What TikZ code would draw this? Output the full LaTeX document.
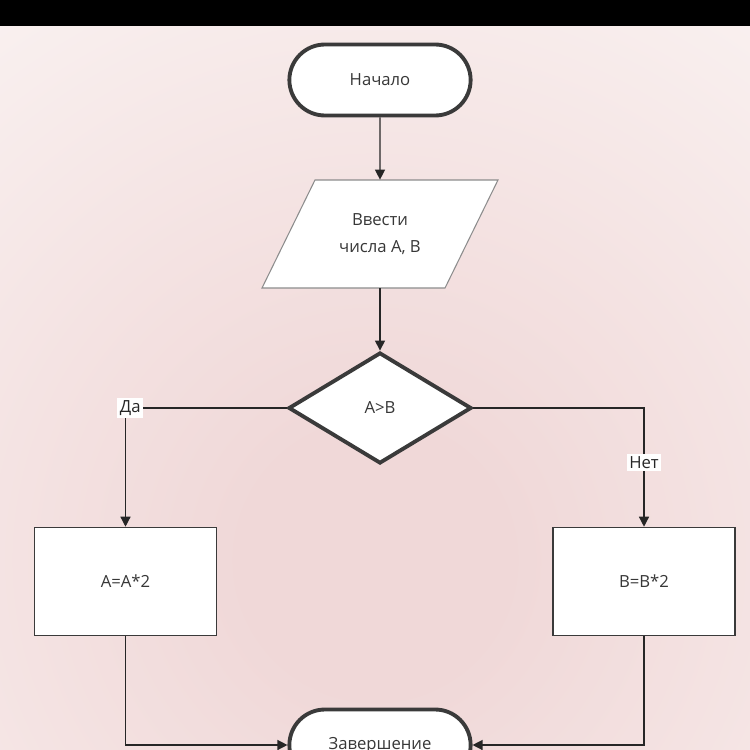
\documentclass[tikz,border=0pt]{standalone}
\usepackage{fontspec}
\setmainfont{Open Sans}
\usetikzlibrary{shapes.geometric,shapes.misc,arrows.meta}

\definecolor{pinkmid}{RGB}{240,216,216}
\definecolor{pinkedge}{RGB}{252,248,247}
\definecolor{frame}{RGB}{58,58,58}
\definecolor{txt}{RGB}{55,55,55}
\pgfdeclareradialshading{bgglow}{\pgfpoint{0bp}{0bp}}{color(0bp)=(pinkmid); color(6bp)=(pinkmid); color(38bp)=(pinkedge); color(50bp)=(pinkedge)}

\begin{document}
\begin{tikzpicture}[x=0.02cm,y=-0.02cm,
   every node/.style={text=txt,font=\fontsize{9.5pt}{15pt}\selectfont},
   term/.style={rounded rectangle,draw=frame,line width=2.2pt,fill=white,minimum width=3.86cm,minimum height=1.42cm},
   iobox/.style={draw=black!45,line width=0.6pt,fill=white},
   io/.style={rectangle,minimum width=3.64cm,minimum height=2.16cm,align=center},
   test/.style={diamond,draw=frame,line width=2.2pt,fill=white,minimum width=3.66cm,minimum height=2.22cm},
   action/.style={rectangle,draw=frame,line width=0.9pt,fill=white,minimum width=3.64cm,minimum height=2.16cm},
   tag/.style={fill=white,inner sep=1.5pt,text=black!85},
   flow/.style={black!85,line width=0.75pt,-{Triangle[length=0.2cm,width=0.2cm]}}]

   \useasboundingbox (0,0) rectangle (750,750);
   \clip (0,0) rectangle (750,750);
   \shade[shading=bgglow] (-175,10) rectangle (925,1110);
   \fill[black] (0,0) rectangle (750,26);

   % input block: the parallelogram is drawn by hand, the node carries the text
   \draw[iobox] (262,288) -- (445,288) -- (498,180) -- (315,180) -- cycle;

   \node[term] (start) at (380,80) {Начало};
   \node[io] (input) at (380,234) {Ввести\\числа A, B};
   \node[test] (cond) at (380,408) {A>B};
   \node[action] (left) at (125.5,581.5) {A=A*2};
   \node[action] (right) at (644,581.5) {B=B*2};
   \node[term] (stop) at (380,745) {Завершение};

   \draw[flow] (start) -- (input);
   \draw[flow] (input) -- (cond);
   \draw[flow] (cond.west) -| node[tag,pos=0.485] {Да} (left.north);
   \draw[flow] (cond.east) -| node[tag,pos=0.73] {Нет} (right.north);
   \draw[flow] (left.south) |- (stop.west);
   \draw[flow] (right.south) |- (stop.east);
\end{tikzpicture}
\end{document}
